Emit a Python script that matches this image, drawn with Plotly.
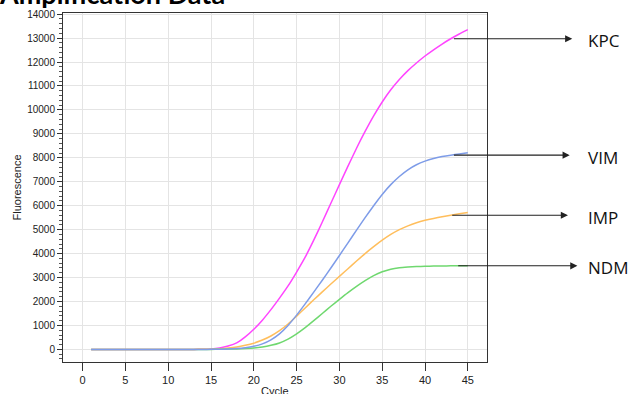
import plotly.graph_objects as go

cycles = list(range(1, 46))

kpc = [0, 0, 0, 0, 0, 0, 0, 0, 0, 0, 0, 0, 0, 5, 20,
       60, 140, 270, 520, 840, 1220, 1660, 2140, 2650, 3230,
       3850, 4560, 5320, 6100, 6880, 7650, 8400, 9100, 9750, 10330,
       10840, 11270, 11640, 11960, 12250, 12510, 12750, 12970, 13170, 13350]

vim = [0, 0, 0, 0, 0, 0, 0, 0, 0, 0, 0, 0, 0, 0, 2,
       5, 15, 35, 70, 130, 230, 400, 650, 1000, 1430,
       1900, 2390, 2890, 3400, 3920, 4450, 4980, 5500, 6000, 6470,
       6880, 7220, 7500, 7710, 7860, 7970, 8050, 8110, 8160, 8210]

imp = [0, 0, 0, 0, 0, 0, 0, 0, 0, 0, 0, 0, 0, 3, 10,
       25, 55, 100, 170, 260, 390, 560, 780, 1060, 1390,
       1730, 2070, 2400, 2730, 3050, 3370, 3690, 4000, 4290, 4560,
       4800, 5000, 5160, 5290, 5390, 5470, 5540, 5600, 5660, 5720]

ndm = [0, 0, 0, 0, 0, 0, 0, 0, 0, 0, 0, 0, 0, 0, 0,
       5, 12, 22, 35, 55, 100, 170, 270, 430, 650,
       910, 1200, 1500, 1800, 2090, 2370, 2630, 2870, 3080, 3240,
       3350, 3410, 3440, 3460, 3472, 3480, 3485, 3490, 3490, 3490]

series_names = ["KPC", "VIM", "IMP", "NDM"]
series_vals = [kpc, vim, imp, ndm]
series_colors = ["#ff45ff", "#7e9ce8", "#ffbe5c", "#6fd86f"]
draw_order = [0, 2, 3, 1]  # VIM drawn last (on top), as in the reference

# arrow tails (cycle) and heads (cycle beyond axis) for the labels
arrow_tail = [43.2, 43.2, 43.0, 43.7]
arrow_head = [57.2, 56.9, 56.7, 57.8]

fig = go.Figure()
for i in draw_order:
    fig.add_trace(go.Scatter(x=cycles, y=series_vals[i], mode="lines", name=series_names[i],
                             line=dict(color=series_colors[i], width=1.5, shape="spline", smoothing=0.6),
                             showlegend=False))

for name, vals, tail, head in zip(series_names, series_vals, arrow_tail, arrow_head):
    yv = vals[cycles.index(43)]
    fig.add_annotation(x=head, y=yv, ax=tail, ay=yv, xref="x", yref="y",
                       axref="x", ayref="y", text="", showarrow=True,
                       arrowhead=2, arrowsize=1.3, arrowwidth=1.1,
                       arrowcolor="#222222")
    fig.add_annotation(x=1.234, y=yv, xref="paper", yref="y", text=name,
                       showarrow=False, xanchor="left", yanchor="middle",
                       yshift=-2,
                       font=dict(family="Open Sans, Liberation Sans", size=17, color="#111111"))

# axis titles placed as annotations
fig.add_annotation(x=0.5, y=-0.082, xref="paper", yref="paper", text="Cycle",
                   showarrow=False, xanchor="center", yanchor="middle",
                   font=dict(family="Liberation Sans, Arial", size=11, color="#222222"))
fig.add_annotation(x=-0.1085, y=0.5, xref="paper", yref="paper", text="Fluorescence",
                   showarrow=False, textangle=-90, xanchor="center", yanchor="middle",
                   font=dict(family="Liberation Sans, Arial", size=11, color="#222222"))

fig.update_layout(
    width=628, height=394,
    margin=dict(l=63, r=141, t=13, b=32, autoexpand=False),
    paper_bgcolor="white", plot_bgcolor="white",
    title=dict(text="<b>Amplification Data</b>", xref="container", yref="container",
               x=0.0, xanchor="left", y=1 - 3.5 / 394, yanchor="bottom",
               font=dict(family="Lato, Open Sans", size=27, color="#000000"),
               pad=dict(l=0, r=0, t=0, b=0), automargin=False),
    font=dict(family="Liberation Sans, Arial", size=10, color="#222222"),
)

fig.update_xaxes(
    range=[-2.29, 47.24], tickmode="array", tickvals=list(range(0, 46, 5)),
    ticks="outside", ticklen=8, tickcolor="#333333", tickwidth=1,
    showgrid=True, gridcolor="#e4e4e4", gridwidth=1.2, zeroline=False,
    showline=True, linecolor="#333333", linewidth=1, mirror=True,
    tickfont=dict(size=11, color="#222222"), automargin=False,
)

fig.update_yaxes(
    range=[-526, 14046], tickmode="array", tickvals=list(range(0, 14001, 1000)),
    tickformat="d",
    ticks="outside", ticklen=5, tickcolor="#333333", tickwidth=1,
    minor=dict(dtick=200, tick0=0, ticks="outside", ticklen=3, tickcolor="#555555", showgrid=False),
    showgrid=True, gridcolor="#e4e4e4", gridwidth=1.2, zeroline=False,
    showline=True, linecolor="#333333", linewidth=1, mirror=True,
    tickfont=dict(size=10, color="#222222"), automargin=False,
)

fig.write_html("out.html")
